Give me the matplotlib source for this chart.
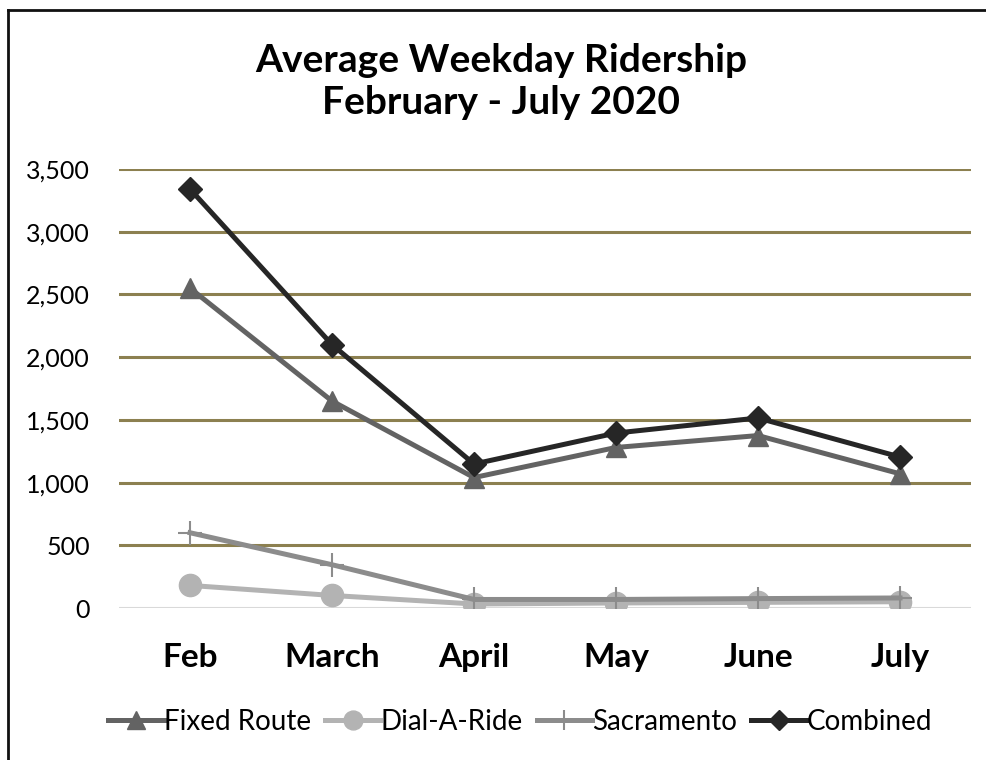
import matplotlib
matplotlib.use('Agg')
import matplotlib.pyplot as plt
from matplotlib.lines import Line2D
from matplotlib.ticker import FuncFormatter

plt.rcParams['font.family'] = ['Lato', 'DejaVu Sans']

months = ['Feb', 'March', 'April', 'May', 'June', 'July']
fixed_route = [2550, 1650, 1040, 1280, 1375, 1070]
dial_a_ride = [180, 100, 32, 40, 45, 50]
sacramento = [600, 345, 68, 68, 75, 80]
combined = [3340, 2100, 1148, 1395, 1515, 1204]

fig = plt.figure(figsize=(9.87, 7.6), dpi=100)
ax = fig.add_axes([0.1206, 0.2, 0.8632, 0.5776])

x = list(range(len(months)))
ax.plot(x, fixed_route, color='#636363', lw=3.6, marker='^', ms=15, label='Fixed Route')
ax.plot(x, dial_a_ride, color='#b3b3b3', lw=3.6, marker='o', ms=16, label='Dial-A-Ride')
ax.plot(x, sacramento, color='#8c8c8c', lw=3.6, marker='+', ms=17, mew=1.5, label='Sacramento')
ax.plot(x, combined, color='#262626', lw=3.6, marker='D', ms=12, label='Combined')

ax.set_xlim(-0.5, 5.5)
ax.set_ylim(0, 3500)
ax.set_yticks(range(0, 3501, 500))
ax.yaxis.set_major_formatter(FuncFormatter(lambda v, p: f'{int(v):,}'))
for v in range(500, 3501, 500):
    ax.axhline(v, color='#8c8050', lw=2.2, zorder=0)
ax.axhline(0, color='#d9d9d9', lw=1.5, zorder=0)

ax.set_xticks(x)
ax.set_xticklabels(months, fontsize=24, fontweight='bold')
ax.tick_params(axis='x', length=0, pad=25)
ax.tick_params(axis='y', length=0, pad=21, labelsize=18)
for s in ax.spines.values():
    s.set_visible(False)

fig.text(0.508, 0.893, 'Average Weekday Ridership\nFebruary - July 2020', ha='center', va='center',
         fontsize=28, fontweight='bold', linespacing=1.25)

fig.legend(loc='center', bbox_to_anchor=(0.527, 0.05), ncol=4, frameon=False, fontsize=20,
           handlelength=2.0, handletextpad=0.0, columnspacing=0.5, markerscale=0.85)

# outer frame (top and left edges visible)
fig.add_artist(Line2D([0.008, 1.0], [0.987, 0.987], color='#111111', lw=2, transform=fig.transFigure))
fig.add_artist(Line2D([0.008, 0.008], [0.0, 0.987], color='#111111', lw=2, transform=fig.transFigure))

fig.savefig('out.png', dpi=100)
